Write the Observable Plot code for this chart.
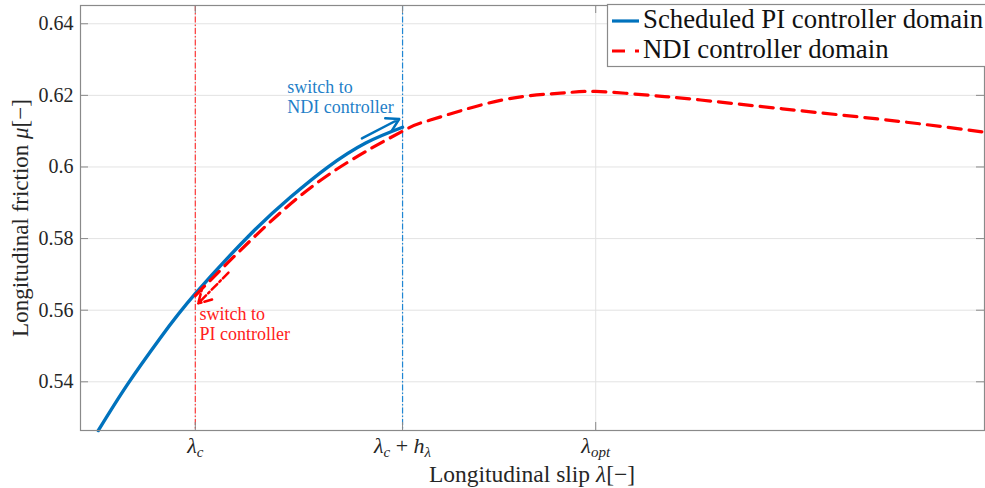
<!DOCTYPE html>
<html><head><meta charset="utf-8">
<script src="https://cdn.jsdelivr.net/npm/d3@7"></script>
<script src="https://cdn.jsdelivr.net/npm/@observablehq/plot@0.6"></script>
<style>
body{margin:0;background:#fff;}
#chart{position:relative;width:985px;height:488px;}
</style>
</head><body><div id="chart"></div>
<script>
// ---- data ----
const piSlip = [0.0766, 0.0836, 0.0916, 0.1000, 0.1133, 0.1230, 0.1319, 0.1411, 0.1500];
const piMu   = [0.5264, 0.5392, 0.5523, 0.5646, 0.5812, 0.5916, 0.5999, 0.6067, 0.6111];
const ndiSlip = [0.1000, 0.1157, 0.1326, 0.1500, 0.1567, 0.1736, 0.1881, 0.1966, 0.2098, 0.2219, 0.2460, 0.2701, 0.2904];
const ndiMu   = [0.5641, 0.5821, 0.5982, 0.6100, 0.6131, 0.6186, 0.6206, 0.6211, 0.6200, 0.6187, 0.6157, 0.6127, 0.6097];
const xTickValues = [0.1000, 0.1500, 0.1966];
const xTickLabels = ["λ_c", "λ_c + h_λ", "λ_opt"];
const yTickValues = [0.54, 0.56, 0.58, 0.60, 0.62, 0.64];
const switchSlip = [0.1000, 0.1500];
const legendLabels = ["Scheduled PI controller domain", "NDI controller domain"];
const annotationText = ["switch to\nNDI controller", "switch to\nPI controller"];
const annotationSlip = [0.1222, 0.1010];
const annotationMu = [0.6247, 0.5613];
const arrowSlip1 = [0.1402, 0.1080];
const arrowMu1 = [0.6080, 0.5705];
const arrowSlip2 = [0.1492, 0.1007];
const arrowMu2 = [0.6134, 0.5619];
const xDomain = [0.0723, 0.2904];
const yDomain = [0.5264, 0.6451];
const xLabel = ["Longitudinal slip ", "λ", "[−]"];
const yLabel = ["Longitudinal friction ", "μ", "[−]"];

// ---- build ----
const BLUE = "#0072BD", RED = "#FF0000", AXIS = "#8a8a8a", TXT = "#262626";
const FONT = "'Liberation Serif', serif";
const W = 985, H = 488, ML = 80, MR = 1, MT = 5, MB = 58;
const PW = W - ML - MR, PH = H - MT - MB;

const pi = piSlip.map((s, i) => ({s, m: piMu[i]}));
const ndi = ndiSlip.map((s, i) => ({s, m: ndiMu[i]}));
const arrows = [0, 1].map(i => ({x1: arrowSlip1[i], y1: arrowMu1[i], x2: arrowSlip2[i], y2: arrowMu2[i]}));

const svg = Plot.plot({
  width: W, height: H,
  marginLeft: ML, marginRight: MR, marginTop: MT, marginBottom: MB,
  style: {fontFamily: FONT, fontSize: "20px", color: TXT, background: "#fff"},
  x: {domain: xDomain},
  y: {domain: yDomain},
  marks: [
    Plot.gridY(yTickValues, {stroke: "#e3e3e3", strokeOpacity: 1}),
    Plot.gridX(xTickValues, {stroke: "#e3e3e3", strokeOpacity: 1}),
    Plot.ruleX([switchSlip[0]], {stroke: "#ff3b3b", strokeWidth: 1.2, strokeDasharray: "6,2,1.5,2"}),
    Plot.ruleX([switchSlip[1]], {stroke: "#1f86d4", strokeWidth: 1.2, strokeDasharray: "6,2,1.5,2"}),
    Plot.line(pi, {x: "s", y: "m", stroke: BLUE, strokeWidth: 3.4, curve: "natural"}),
    Plot.line(ndi, {x: "s", y: "m", stroke: RED, strokeWidth: 3.2, strokeDasharray: "13,8", curve: "natural"}),
    Plot.arrow([arrows[0]], {x1: "x1", y1: "y1", x2: "x2", y2: "y2", stroke: BLUE, strokeWidth: 2.5, headLength: 12}),
    Plot.arrow([arrows[1]], {x1: "x1", y1: "y1", x2: "x2", y2: "y2", stroke: RED, strokeWidth: 2.5, headLength: 12, strokeDasharray: "8,3,2,3"}),
    Plot.text([0], {x: annotationSlip[0], y: annotationMu[0], text: () => annotationText[0], fill: "#1f7fc8", textAnchor: "start", lineAnchor: "top", lineHeight: 1.12, fontSize: 18}),
    Plot.text([0], {x: annotationSlip[1], y: annotationMu[1], text: () => annotationText[1], fill: "#ff2020", textAnchor: "start", lineAnchor: "top", lineHeight: 1.12, fontSize: 18}),
    Plot.frame({stroke: AXIS, strokeWidth: 1.2}),
    Plot.tickY(yTickValues, {y: d => d, stroke: AXIS, insetRight: PW - 8}),
    Plot.tickY(yTickValues, {y: d => d, stroke: AXIS, insetLeft: PW - 8}),
    Plot.tickX(xTickValues, {x: d => d, stroke: AXIS, insetTop: PH - 8}),
    Plot.tickX(xTickValues, {x: d => d, stroke: AXIS, insetBottom: PH - 8}),
    Plot.axisY(yTickValues, {tickSize: 0, tickPadding: 7, label: null, fill: TXT, fontSize: 20, tickFormat: d => String(+d.toFixed(2))}),
    Plot.axisX(xTickValues, {tickSize: 0, tickPadding: 7, label: null, fill: TXT, fontSize: 22, tickFormat: (d, i) => xTickLabels[i]})
  ]
});

const root = d3.select(svg);
// subscripts in x tick labels
root.selectAll('g[aria-label="x-axis tick label"] text').each(function() {
  const t = d3.select(this);
  const label = t.text();
  t.text("");
  const parts = label.split(/(_[^\s]+)/).filter(p => p.length);
  let shifted = false;
  parts.forEach(p => {
    if (p.startsWith("_")) {
      t.append("tspan").attr("font-size", 15).attr("font-style", "italic").attr("dy", 4).text(p.slice(1));
      shifted = true;
    } else {
      p.split(/(\+)/).forEach(q => {
        if (!q) return;
        const ts = t.append("tspan").attr("font-style", q === "+" ? "normal" : "italic").text(q);
        if (shifted) { ts.attr("dy", -4); shifted = false; }
      });
    }
  });
});

// axis titles
const g = root.append("g").attr("font-family", FONT).attr("fill", TXT);
const xt = g.append("text").attr("x", ML + PW / 2).attr("y", 482).attr("text-anchor", "middle").attr("font-size", 23.5);
xLabel.forEach((p, i) => xt.append("tspan").attr("font-style", i === 1 ? "italic" : "normal").text(p));
const yt = g.append("text").attr("transform", "translate(28,218) rotate(-90)").attr("text-anchor", "middle").attr("font-size", 23);
yLabel.forEach((p, i) => yt.append("tspan").attr("font-style", i === 1 ? "italic" : "normal").text(p));

// legend
const lg = root.append("g").attr("font-family", FONT).attr("text-anchor", "start");
lg.append("rect").attr("x", 607.5).attr("y", 4.5).attr("width", 400).attr("height", 62).attr("fill", "#fff").attr("stroke", AXIS).attr("stroke-width", 1.2);
const legendColors = [BLUE, RED];
const legendDash = [null, "13,10"];
legendLabels.forEach((lab, i) => {
  const cy = 21 + i * 30;
  lg.append("line").attr("x1", 612).attr("x2", 639).attr("y1", cy).attr("y2", cy)
    .attr("stroke", legendColors[i]).attr("stroke-width", 3.2).attr("stroke-dasharray", legendDash[i]);
  lg.append("text").attr("x", 643).attr("y", cy + 6.5).attr("font-size", 26.8).attr("fill", "#111").attr("text-anchor", "start").text(lab);
});

document.getElementById("chart").appendChild(svg);
</script>
</body></html>
